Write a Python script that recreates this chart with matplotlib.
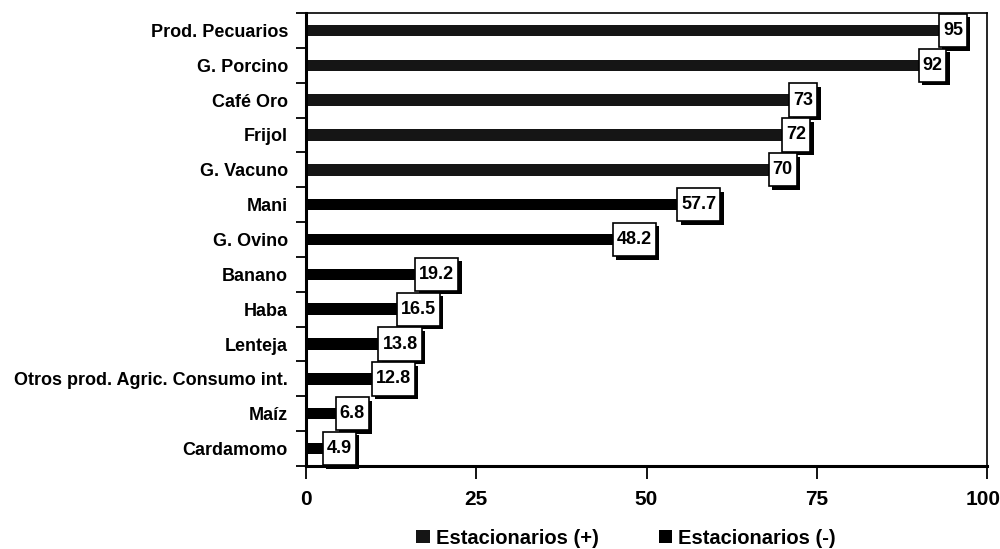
import matplotlib
matplotlib.use("Agg")
import matplotlib.pyplot as plt
import matplotlib.patheffects as pe
import matplotlib.transforms as mtransforms
from matplotlib.patches import Patch
from matplotlib.path import Path

categories = ["Prod. Pecuarios", "G. Porcino", "Café Oro", "Frijol", "G. Vacuno",
              "Mani", "G. Ovino", "Banano", "Haba", "Lenteja",
              "Otros prod. Agric. Consumo int.", "Maíz", "Cardamomo"]
values = [95, 92, 73, 72, 70, 57.7, 48.2, 19.2, 16.5, 13.8, 12.8, 6.8, 4.9]
series = ["+", "+", "+", "+", "+", "-", "-", "-", "-", "-", "-", "-", "-"]
labels = ["95", "92", "73", "72", "70", "57.7", "48.2", "19.2", "16.5", "13.8", "12.8", "6.8", "4.9"]
xticks = [0, 25, 50, 75, 100]
legend_names = ["Estacionarios (+)", "Estacionarios (-)"]

plt.rcParams['font.family'] = ['Liberation Sans', 'DejaVu Sans']
plt.rcParams['font.weight'] = 'bold'
plt.rcParams['hatch.color'] = '#8a8a8a'
plt.rcParams['hatch.linewidth'] = 0.5


def tall_box(x0, y0, width, height, mutation_size):
    px = 0.22 * mutation_size
    py = 0.45 * mutation_size
    x0, y0 = x0 - px, y0 - py
    x1, y1 = x0 + width + 2 * px, y0 + height + 2 * py
    return Path([(x0, y0), (x1, y0), (x1, y1), (x0, y1), (x0, y0)], closed=True)


fig = plt.figure(figsize=(10, 5.49), dpi=100)
ax = fig.add_axes([0.306, 0.1512, 0.681, 0.8251])

n = len(categories)
ypos = list(range(n))
for i, (v, s) in enumerate(zip(values, series)):
    if s == "+":
        ax.barh(i, v, height=0.33, color='#151515', hatch='..', edgecolor='#151515', linewidth=0)
    else:
        ax.barh(i, v, height=0.33, color='black', linewidth=0)

for i, (v, t) in enumerate(zip(values, labels)):
    txt = ax.text(v, i, t, ha='center', va='center', fontsize=13, fontweight='bold',
                  bbox=dict(boxstyle=tall_box, facecolor='white', edgecolor='black', linewidth=1.2))
    txt.get_bbox_patch().set_path_effects([
        pe.SimplePatchShadow(offset=(2.5, -2.5), shadow_rgbFace='black', alpha=1.0),
        pe.Normal()])

ax.set_ylim(n - 0.5, -0.5)
ax.set_xlim(0, 100)
ax.set_yticks(ypos)
ax.set_yticklabels(categories, fontsize=13, fontweight='bold')
ax.set_yticks([i + 0.5 for i in range(-1, n)], minor=True)
ax.tick_params(axis='y', which='major', length=0, pad=13)
ax.tick_params(axis='y', which='minor', length=7, width=1.3, direction='out')
ax.set_xticks(xticks)
ax.set_xticklabels([str(t) for t in xticks], fontsize=15, fontweight='bold')
ax.tick_params(axis='x', length=9, width=1.3, direction='out', pad=8)
last = ax.get_xticklabels()[-1]
last.set_transform(last.get_transform() + mtransforms.ScaledTranslation(-4 / 100, 0, fig.dpi_scale_trans))
for side in ['left', 'bottom']:
    ax.spines[side].set_linewidth(2.2)
for side in ['top', 'right']:
    ax.spines[side].set_linewidth(1.2)

handles = [Patch(facecolor='#151515', hatch='..', edgecolor='#151515', linewidth=0),
           Patch(facecolor='black', linewidth=0)]
fig.legend(handles, legend_names, loc='center', bbox_to_anchor=(0.626, 0.02), ncol=2,
           frameon=False, handlelength=0.65, handleheight=0.65,
           handletextpad=0.3, columnspacing=3.0, prop={'weight': 'bold', 'size': 14.5})

fig.savefig("out.png", dpi=100)
